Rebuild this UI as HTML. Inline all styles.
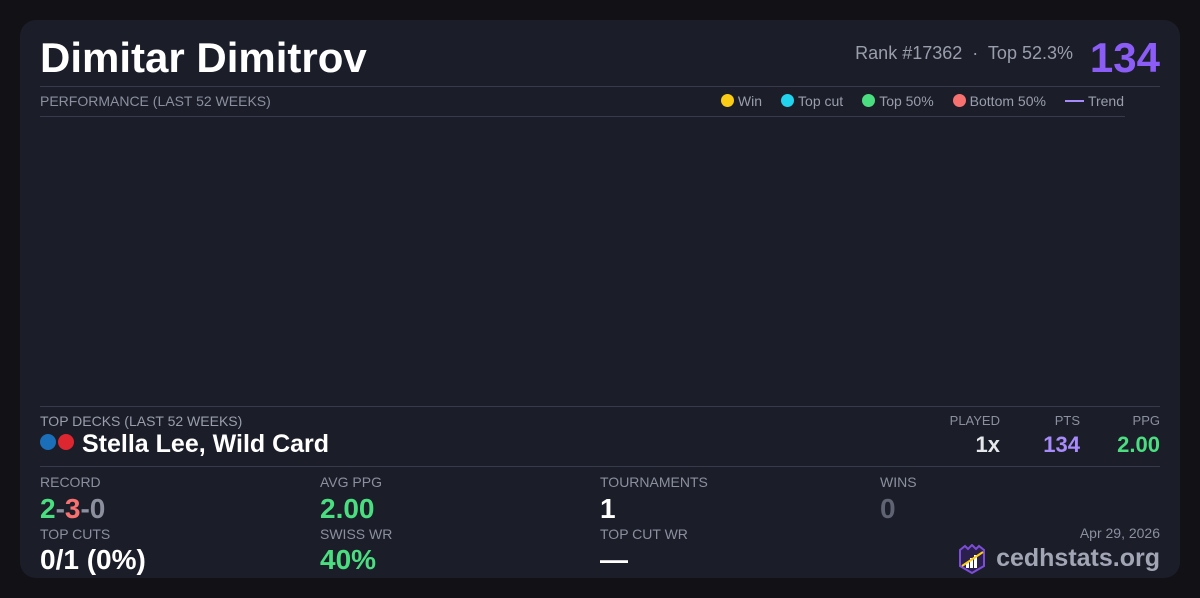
<!DOCTYPE html>
<html><head><meta charset="utf-8"><style>
*{margin:0;padding:0;box-sizing:border-box}
body{width:1200px;height:598px;background:#111116;font-family:"Liberation Sans",sans-serif;position:relative;overflow:hidden}
.card{position:absolute;left:20px;top:20px;width:1160px;height:558px;background:#1b1d29;border-radius:16px}
.a{position:absolute;white-space:nowrap;line-height:1}
.hr{position:absolute;height:1px;background:#363a4b}
.lbl{font-size:14px;color:#8b8f9e}
.val{font-size:28px;font-weight:bold}
.dot{display:inline-block;width:13px;height:13px;border-radius:50%;vertical-align:-1px;margin-right:4px}
.leg span.i{margin-left:19px}
</style></head><body>
<div class="card"></div>
<div class="a" style="left:40px;top:37px;font-size:42px;font-weight:bold;color:#fff">Dimitar Dimitrov</div>
<div class="a" style="right:127px;top:44px;font-size:18px;color:#9a9eac">Rank #17362 &nbsp;·&nbsp; Top 52.3%</div>
<div class="a" style="right:40px;top:37px;font-size:42px;font-weight:bold;color:#8b5cf6">134</div>
<div class="hr" style="left:40px;width:1120px;top:86px"></div>
<div class="a lbl" style="left:40px;top:94px">PERFORMANCE (LAST 52 WEEKS)</div>
<div class="a lbl leg" style="right:76px;top:94px;color:#9a9eac">
<span class="dot" style="background:#facc15"></span>Win<span class="i"></span><span class="dot" style="background:#22d3ee"></span>Top cut<span class="i"></span><span class="dot" style="background:#4ade80"></span>Top 50%<span class="i"></span><span class="dot" style="background:#f87171"></span>Bottom 50%<span class="i"></span><span style="display:inline-block;width:19px;height:2px;background:#a78bfa;vertical-align:4px;margin-right:4px"></span>Trend</div>
<div class="hr" style="left:40px;width:1085px;top:116px"></div>
<div class="hr" style="left:40px;width:1120px;top:406px"></div>
<div class="a lbl" style="left:40px;top:414px;color:#9a9eac">TOP DECKS (LAST 52 WEEKS)</div>
<div class="a" style="left:40px;top:434px"><span class="dot" style="background:#1b6fb8;width:16px;height:16px;margin-right:2px"></span><span class="dot" style="background:#dc2630;width:16px;height:16px"></span></div>
<div class="a" style="left:82px;top:432px;font-size:25px;font-weight:bold;color:#fff">Stella Lee, Wild Card</div>
<div class="a" style="right:200px;top:414px;font-size:13px;color:#8b8f9e">PLAYED</div>
<div class="a" style="right:120px;top:414px;font-size:13px;color:#8b8f9e">PTS</div>
<div class="a" style="right:40px;top:414px;font-size:13px;color:#8b8f9e">PPG</div>
<div class="a" style="right:200px;top:434px;font-size:22px;font-weight:bold;color:#e5e7eb">1x</div>
<div class="a" style="right:120px;top:434px;font-size:22px;font-weight:bold;color:#a78bfa">134</div>
<div class="a" style="right:40px;top:434px;font-size:22px;font-weight:bold;color:#4ade80">2.00</div>
<div class="hr" style="left:40px;width:1120px;top:466px"></div>
<div class="a lbl" style="left:40px;top:475px">RECORD</div>
<div class="a val" style="left:40px;top:495px"><span style="color:#4ade80">2</span><span style="color:#8b8f9e">-</span><span style="color:#f87171">3</span><span style="color:#8b8f9e">-0</span></div>
<div class="a lbl" style="left:320px;top:475px">AVG PPG</div>
<div class="a val" style="left:320px;top:495px;color:#4ade80">2.00</div>
<div class="a lbl" style="left:600px;top:475px">TOURNAMENTS</div>
<div class="a val" style="left:600px;top:495px;color:#fff">1</div>
<div class="a lbl" style="left:880px;top:475px">WINS</div>
<div class="a val" style="left:880px;top:495px;color:#5f6372">0</div>
<div class="a lbl" style="left:40px;top:527px">TOP CUTS</div>
<div class="a val" style="left:40px;top:546px;color:#fff">0/1 (0%)</div>
<div class="a lbl" style="left:320px;top:527px">SWISS WR</div>
<div class="a val" style="left:320px;top:546px;color:#4ade80">40%</div>
<div class="a lbl" style="left:600px;top:527px">TOP CUT WR</div>
<div class="a val" style="left:600px;top:546px;color:#fff">—</div>
<div class="a" style="right:40px;top:526px;font-size:14px;color:#8b8f9e">Apr 29, 2026</div>
<svg class="a" style="left:956px;top:544px" width="32" height="30" viewBox="0 0 30 30">
<path d="M3 6 L8 2 L11 5 L15 1 L19 5 L22 2 L27 6 L27 22 L15 29 L3 22 Z" fill="#2a1f4d" stroke="#7c4dd6" stroke-width="2"/>
<rect x="9" y="18" width="3" height="6" fill="#fff"/><rect x="13" y="14" width="3" height="10" fill="#fff"/><rect x="17" y="11" width="3" height="13" fill="#fff"/>
<path d="M5 22 L26 8" stroke="#facc15" stroke-width="2"/></svg>
<div class="a" style="right:40px;top:546px;font-size:25px;font-weight:bold;color:#a1a5b4">cedhstats.org</div>
</body></html>
